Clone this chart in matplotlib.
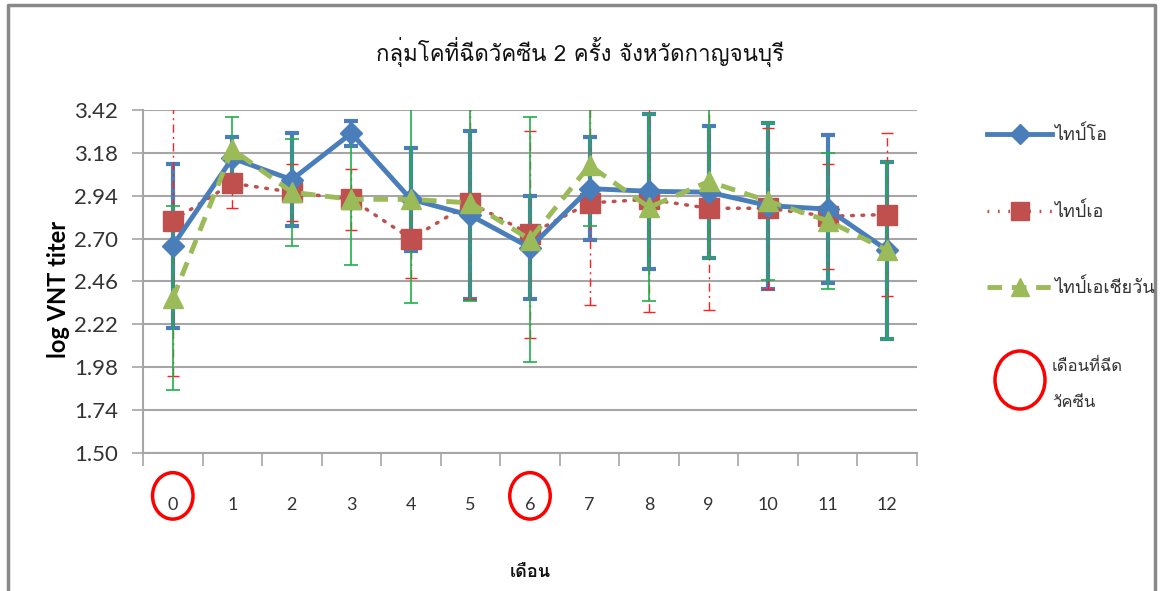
import numpy as np
import matplotlib
matplotlib.use("Agg")
import matplotlib.pyplot as plt
from matplotlib import font_manager
from matplotlib.patches import Ellipse
from matplotlib.lines import Line2D
from fontTools.ttLib import TTFont

# data: log VNT titer per month, mean and error (+/-)
months = list(range(13))
month_labels = [str(m) for m in months]
vaccine_months = [0, 6]

type_o = [2.66, 3.15, 3.03, 3.29, 2.92, 2.83, 2.65, 2.98, 2.965, 2.96, 2.885, 2.865, 2.635]
type_o_err = [0.46, 0.12, 0.26, 0.07, 0.29, 0.47, 0.29, 0.29, 0.435, 0.37, 0.465, 0.415, 0.495]

type_a = [2.80, 3.01, 2.96, 2.92, 2.70, 2.90, 2.725, 2.90, 2.92, 2.87, 2.87, 2.825, 2.835]
type_a_err = [0.87, 0.14, 0.16, 0.17, 0.22, 0.54, 0.58, 0.57, 0.63, 0.57, 0.45, 0.295, 0.455]

type_asia1 = [2.365, 3.20, 2.96, 2.92, 2.92, 2.90, 2.695, 3.11, 2.875, 3.02, 2.91, 2.80, 2.635]
type_asia1_err = [0.515, 0.18, 0.30, 0.37, 0.58, 0.55, 0.685, 0.34, 0.525, 0.43, 0.44, 0.38, 0.495]

yticks = [1.50, 1.74, 1.98, 2.22, 2.46, 2.70, 2.94, 3.18, 3.42]

title = "กลุ่มโคที่ฉีดวัคซีน 2 ครั้ง จังหวัดกาญจนบุรี"
names = ["ไทป์โอ", "ไทป์เอ", "ไทป์เอเชียวัน"]
circle_note = "เดือนที่ฉีด\nวัคซีน"


# look for an installed font that has Thai glyphs
def find_thai_font():
    for f in font_manager.fontManager.ttflist:
        try:
            tt = TTFont(f.fname, fontNumber=0, lazy=True)
            cmap = tt.getBestCmap()
            if cmap and 0x0E01 in cmap and 0x0E35 in cmap:
                return f.name
        except Exception:
            continue
    return None


thai = find_thai_font()
fams = ([thai] if thai else []) + ["DejaVu Sans"]
plt.rcParams["font.family"] = fams
num_font = ["Lato", "DejaVu Sans"]

blue = "#4a7ebb"
red = "#c0504d"
green = "#9bbb59"
grid = "#a6a6a6"

fig = plt.figure(figsize=(11.63, 5.91), dpi=100)
ax = fig.add_axes([143 / 1163, 138 / 591, 774 / 1163, 343 / 591])

# error bars first so markers sit on top
ax.errorbar(months, type_o, yerr=type_o_err, fmt="none", ecolor=blue,
            elinewidth=3, capsize=5, capthick=3, zorder=3)
ax.errorbar(months, type_asia1, yerr=type_asia1_err, fmt="none", ecolor="#1fb04a",
            elinewidth=1.2, capsize=5, capthick=1.2, zorder=3.2)
eb = ax.errorbar(months, type_a, yerr=type_a_err, fmt="none", ecolor="#ff2020",
                 elinewidth=1, capsize=4, capthick=1, zorder=3.1)
for c in eb[2]:
    c.set_linestyle((0, (6, 3, 1.5, 3)))

ax.plot(months, type_o, color=blue, lw=3.5, marker="D", ms=11, zorder=5)
ax.plot(months, type_a, color=red, lw=2.5, ls=(0, (0.5, 2.5)), dash_capstyle="round",
        marker="s", ms=14, zorder=4)
ax.plot(months, type_asia1, color=green, lw=3.5, ls=(0, (3, 2)), marker="^", ms=15,
        zorder=6)

ax.set_xlim(-0.5, 12.5)
ax.set_ylim(1.50, 3.42)
ax.set_yticks(yticks)
ax.set_yticklabels([f"{v:.2f}" for v in yticks], fontsize=16, color="#333333",
                   family=num_font)
ax.yaxis.grid(True, color=grid, lw=1.5)
ax.set_axisbelow(True)

ax.set_xticks(months)
ax.set_xticklabels(month_labels, fontsize=13, color="#333333", family=num_font)
ax.set_xticks(np.arange(-0.5, 13, 1), minor=True)
ax.tick_params(axis="x", which="major", length=0, pad=32)
ax.tick_params(axis="x", which="minor", length=9, color=grid, width=1.2)
ax.tick_params(axis="y", length=8, color=grid, width=1.2, pad=10)

for s in ["top", "right"]:
    ax.spines[s].set_visible(False)
ax.spines["left"].set_color(grid)
ax.spines["bottom"].set_color(grid)
ax.spines["left"].set_linewidth(1.5)
ax.spines["bottom"].set_linewidth(1.5)

# red circles round the vaccination months
for m in vaccine_months:
    ax.add_patch(Ellipse((m, 1.50 - 0.24), 0.68, 0.26, transform=ax.transData,
                         fill=False, ec="red", lw=2.5, clip_on=False))

fig.text(0.499, 0.912, title, ha="center", va="center", fontsize=16, color="#111111")
fig.text(0.456, 0.032, "เดือน", ha="center", va="center", fontsize=13,
         fontweight="bold", color="#111111")
fig.text(0.05, 0.51, "log VNT titer", rotation=90, ha="center", va="center",
         fontsize=17, fontweight="bold", color="black", family=num_font)

# legend drawn by hand on the right side
handles = [
    Line2D([0], [0], color=blue, lw=3.5, marker="D", ms=10),
    Line2D([0], [0], color=red, lw=2.5, ls=(0, (0.5, 2.5)), marker="s", ms=13),
    Line2D([0], [0], color=green, lw=3.5, ls=(0, (3, 2)), marker="^", ms=13),
]
leg = fig.legend(handles, names, loc="upper left", bbox_to_anchor=(0.835, 0.815),
                 frameon=False, fontsize=13, handlelength=3.6, labelspacing=3.2,
                 handletextpad=0.1)
for t in leg.get_texts():
    t.set_color("#333333")
fig.patches.append(Ellipse((1020 / 1163, 1 - 380 / 591), 50 / 1163, 58 / 591,
                           transform=fig.transFigure, fill=False, ec="red", lw=2.5))
fig.text(1052 / 1163, 1 - 385 / 591, circle_note, ha="left", va="center",
         fontsize=12, color="#333333", linespacing=2.6)

# outer chart border
fig.add_artist(Line2D([8 / 1163, 8 / 1163, 1155 / 1163, 1155 / 1163],
                      [0, 1 - 5 / 591, 1 - 5 / 591, 0], transform=fig.transFigure,
                      color="#888888", lw=2.5))

fig.savefig("out.png", dpi=100)
